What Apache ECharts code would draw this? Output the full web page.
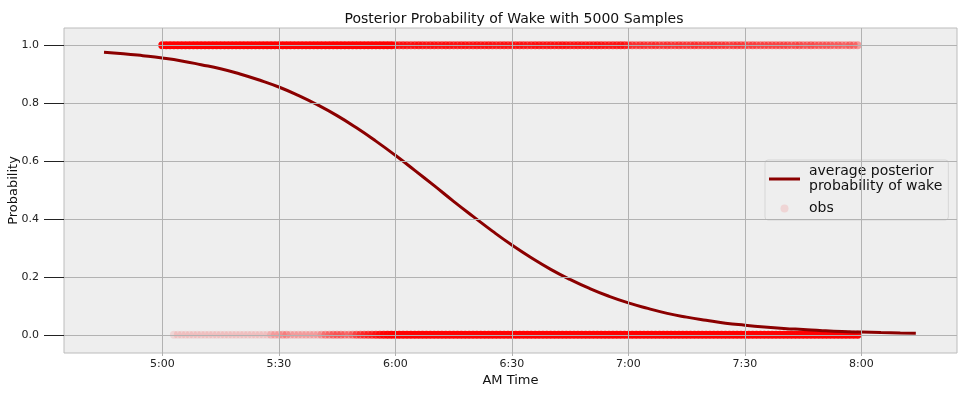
<!DOCTYPE html>
<html><head><meta charset="utf-8">
<script src="https://cdn.jsdelivr.net/npm/echarts@6/dist/echarts.min.js"></script>
<style>html,body{margin:0;padding:0;background:#fff}#c{width:967px;height:394px}</style>
</head><body><div id="c"></div>
<script>
// minutes after 5:00 AM
const curveMinutes = [-15,-10,-5,0,5,10,15,20,25,30,35,40,45,50,55,60,65,70,75,80,85,90,95,100,105,110,115,120,125,130,135,140,145,150,155,160,165,170,175,180,185,190,194];
const curveProb = [0.976,0.971,0.964,0.956,0.946,0.933,0.919,0.901,0.880,0.856,0.827,0.794,0.757,0.715,0.669,0.620,0.568,0.515,0.461,0.409,0.358,0.310,0.266,0.226,0.191,0.160,0.133,0.110,0.091,0.074,0.061,0.050,0.040,0.033,0.027,0.022,0.018,0.014,0.011,0.0093,0.0075,0.0061,0.0051];

// number of overlapping observations at each minute (index = minutes after 5:00)
const wakeCounts = [
40,40,40,40,40,40,40,40,40,40, 40,40,40,40,40,40,40,40,40,40,
40,40,40,40,40,40,40,40,40,40, 40,40,40,40,40,40,40,40,40,40,
40,40,40,40,40,40,40,40,40,40, 40,40,40,40,40,40,40,40,40,40,
14,13,14,13,12,13,14,13,12,13, 13,12,13,14,13,12,12,13,13,12,
12,13,12,12,13,12,11,12,13,12, 12,13,13,12,11,12,13,13,12,12,
13,12,13,14,13,12,12,13,12,12, 12,12,13,12,11,11,12,12,13,12,
8,8,7,8,8,7,8,8,7,7, 8,7,7,8,7,7,7,8,7,7,
7,7,8,7,7,7,6,7,7,7, 6,6,7,6,6,6,6,6,6,6,
6,6,5,6,6,5,5,6,5,5, 5,5,5,4,5,4,4,5,4,4];
const sleepCounts = [
0,0,0,1,1,1,1,1,1,1, 1,1,1,1,1,1,1,1,1,1,
1,1,1,1,1,1,1,1,2,2, 2,3,3,2,2,2,2,2,2,2,
2,3,4,4,5,5,5,4,4,5, 7,8,9,10,11,14,18,22,28,35,
40,40,40,40,40,40,40,40,40,40, 40,40,40,40,40,40,40,40,40,40,
40,40,40,40,40,40,40,40,40,40, 40,40,40,40,40,40,40,40,40,40,
40,40,40,40,40,40,40,40,40,40, 40,40,40,40,40,40,40,40,40,40,
40,40,40,40,40,40,40,40,40,40, 40,40,40,40,40,40,40,40,40,40,
40,40,40,40,40,40,40,40,40,40, 40,40,40,40,40,40,40,40,40,40,
40,40,40,40,40,40,40,40,40,40, 40,40,40,40,40,40,40,40,40,40];

const xTickValues = [0,30,60,90,120,150,180];
const xTickLabels = ['5:00','5:30','6:00','6:30','7:00','7:30','8:00'];
const yTickValues = [0,0.2,0.4,0.6,0.8,1.0];
const yTickLabels = ['0.0','0.2','0.4','0.6','0.8','1.0'];

const pointAlpha = 0.1;
const font = 'DejaVu Sans';

function obsPoints(counts, yVal) {
  const out = [];
  counts.forEach((k, m) => {
    if (k > 0) out.push({ value: [m, yVal], itemStyle: { opacity: 1 - Math.pow(1 - pointAlpha, k) } });
  });
  return out;
}
const obsData = obsPoints(wakeCounts, 1).concat(obsPoints(sleepCounts, 0));
const curveData = curveMinutes.map((m, i) => [m, curveProb[i]]);

const chart = echarts.init(document.getElementById('c'), null, { renderer: 'canvas' });
chart.setOption({
  animation: false,
  backgroundColor: '#ffffff',
  title: {
    text: 'Posterior Probability of Wake with 5000 Samples',
    left: 509, top: 7, textAlign: 'center',
    textStyle: { fontFamily: font, fontSize: 14, fontWeight: 'normal', color: '#111' }
  },
  grid: {
    left: 64, right: 10, top: 28, bottom: 41, containLabel: false, outerBoundsMode: 'none',
    show: true, backgroundColor: '#eeeeee', borderColor: '#bcbcbc', borderWidth: 1
  },
  legend: {
    orient: 'vertical', left: 765, top: 160,
    backgroundColor: '#eeeeee', borderColor: '#d6d6d6', borderWidth: 1, borderRadius: 3,
    padding: [4, 6, 4, 4], itemGap: 7, itemWidth: 31, itemHeight: 8,
    symbolKeepAspect: true,
    textStyle: { fontFamily: font, fontSize: 14, color: '#111', lineHeight: 15, padding: [0, 0, 0, 4] },
    formatter: n => n === 'avg' ? 'average posterior\nprobability of wake' : n,
    data: [
      { name: 'avg', icon: 'path://M0,0H31V3H0Z', itemStyle: { color: '#8b0000' } },
      { name: 'obs', icon: 'circle', itemStyle: { color: 'red', opacity: 0.1 } }
    ]
  },
  xAxis: {
    type: 'value', min: -25.3, max: 204.6, z: 5, position: 'bottom',
    name: 'AM Time', nameLocation: 'middle', nameGap: 21, nameMoveOverlap: false,
    nameTextStyle: { fontFamily: font, fontSize: 13, color: '#111' },
    axisLine: { show: true, onZero: false, lineStyle: { color: 'rgba(0,0,0,0)' } },
    axisTick: { show: true, length: 3, lineStyle: { color: '#b2b2b2' }, customValues: xTickValues },
    axisLabel: {
      show: true, margin: 6, fontFamily: font, fontSize: 11, color: '#222',
      customValues: xTickValues,
      formatter: v => xTickLabels[xTickValues.indexOf(Math.round(v))] || ''
    },
    splitLine: { show: true, lineStyle: { color: '#b2b2b2', width: 1 } }
  },
  yAxis: {
    type: 'value', min: -0.063, max: 1.0598, z: 5, position: 'left',
    name: 'Probability', nameLocation: 'middle', nameGap: 44, nameMoveOverlap: false,
    nameTextStyle: { fontFamily: font, fontSize: 13, color: '#111' },
    axisLine: { show: true, onZero: false, lineStyle: { color: 'rgba(0,0,0,0)' } },
    axisTick: { show: true, length: 20, lineStyle: { color: '#222' }, customValues: yTickValues },
    axisLabel: {
      show: true, margin: 25, fontFamily: font, fontSize: 11, color: '#222',
      customValues: yTickValues,
      formatter: v => yTickLabels[yTickValues.findIndex(t => Math.abs(t - v) < 1e-6)] || ''
    },
    splitLine: { show: true, lineStyle: { color: '#b2b2b2', width: 1 } }
  },
  series: [
    {
      name: 'obs', type: 'scatter', symbol: 'circle', symbolSize: 8, z: 1,
      itemStyle: { color: 'red' }, data: obsData, large: false
    },
    {
      name: 'avg', type: 'line', smooth: true, showSymbol: false, z: 2,
      lineStyle: { color: '#8b0000', width: 3 }, itemStyle: { color: '#8b0000' },
      data: curveData
    }
  ]
});
</script>
</body></html>
